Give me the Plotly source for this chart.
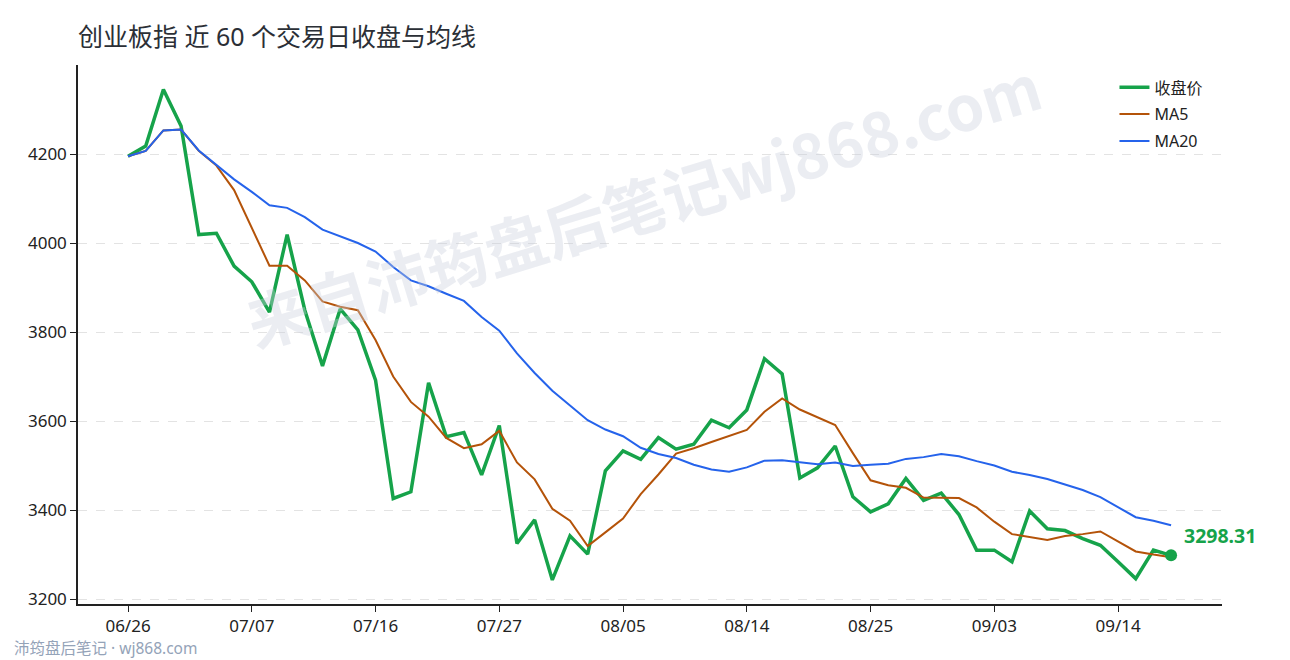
import pandas as pd
import plotly.graph_objects as go

# 60 trading days, 2026-06-26 .. 09/17
dates = [d.strftime("%m/%d") for d in pd.bdate_range("2026-06-26", periods=60)]

close = [4195, 4218, 4345, 4263, 4019, 4022, 3948, 3913, 3845, 4019,
         3849, 3724, 3852, 3805, 3692, 3426, 3441, 3686, 3565, 3574,
         3479, 3590, 3325, 3378, 3243, 3342, 3301, 3488, 3533, 3514,
         3563, 3537, 3548, 3602, 3585, 3625, 3740, 3706, 3472, 3495,
         3544, 3430, 3396, 3414, 3471, 3422, 3438, 3390, 3310, 3310,
         3284, 3398, 3358, 3354, 3336, 3321, 3284, 3246, 3310, 3298.31]

ma5 = [4195, 4207, 4253, 4255, 4207, 4174, 4119, 4033, 3949, 3949,
       3916, 3869, 3857, 3849, 3782, 3700, 3643, 3610, 3562, 3539,
       3548, 3578, 3507, 3469, 3403, 3376, 3319, 3350, 3381, 3436,
       3480, 3527, 3539, 3553, 3567, 3580, 3621, 3651, 3626, 3608,
       3591, 3528, 3467, 3456, 3450, 3428, 3428, 3427, 3406, 3374,
       3346, 3339, 3333, 3342, 3346, 3352, 3330, 3307, 3300, 3294]

ma20 = [4195, 4207, 4253, 4255, 4208, 4176, 4143, 4115, 4085, 4079,
        4058, 4030, 4015, 4000, 3981, 3946, 3916, 3903, 3886, 3870,
        3834, 3803, 3752, 3708, 3668, 3634, 3602, 3581, 3566, 3540,
        3526, 3517, 3502, 3491, 3486, 3496, 3511, 3512, 3507, 3503,
        3507, 3499, 3502, 3504, 3515, 3519, 3526, 3521, 3510, 3500,
        3486, 3479, 3470, 3457, 3445, 3429, 3407, 3384, 3376, 3366]

tick_dates = dates[::7]
y_ticks = [3200, 3400, 3600, 3800, 4000, 4200]

GREEN = "#16a34a"
ORANGE = "#b45309"
BLUE = "#2563eb"
FONT = "Noto Sans, Noto Sans CJK SC"

fig = go.Figure()
fig.add_trace(go.Scatter(x=dates, y=close, name="收盘价", mode="lines",
                         legendgroup="a", line=dict(color=GREEN, width=3.5)))
fig.add_trace(go.Scatter(x=dates, y=ma5, name="MA5", mode="lines",
                         legendgroup="b", line=dict(color=ORANGE, width=2)))
fig.add_trace(go.Scatter(x=dates, y=ma20, name="MA20", mode="lines",
                         legendgroup="c", line=dict(color=BLUE, width=2)))
fig.add_trace(go.Scatter(x=[dates[-1]], y=[close[-1]], mode="markers",
                         showlegend=False, hoverinfo="skip",
                         marker=dict(color=GREEN, size=12)))

fig.add_annotation(x=dates[-1], y=close[-1], text="<b>%.2f</b>" % close[-1],
                   showarrow=False, xanchor="left", yanchor="middle",
                   xshift=11, yshift=20,
                   font=dict(family=FONT, size=19.5, color=GREEN))

# watermark
fig.add_annotation(xref="paper", yref="paper", x=0.494, y=0.745,
                   xanchor="center", yanchor="middle",
                   text="<b>来自沛筠盘后笔记wj868.com</b>", showarrow=False,
                   textangle=-17,
                   font=dict(family="Noto Sans CJK SC", size=62,
                             color="rgba(203,208,222,0.38)"))

fig.add_annotation(xref="paper", yref="paper", x=-0.058, y=-0.082,
                   xanchor="left", yanchor="middle", showarrow=False,
                   text="沛筠盘后笔记 · wj868.com",
                   font=dict(family=FONT, size=15.5, color="#94a3b8"))

# page body adds 8px offset, so margins are shifted accordingly
fig.update_layout(
    width=1290, height=660,
    margin=dict(l=70, r=76, t=57, b=64),
    paper_bgcolor="white", plot_bgcolor="white",
    font=dict(family=FONT, size=17, color="#222222"),
    title=dict(text="创业板指 近 60 个交易日收盘与均线", x=70 / 1290, xanchor="left",
               y=1 - 29 / 660, yanchor="middle",
               font=dict(family=FONT, size=25, color="#2b2f36")),
    showlegend=True,
    legend=dict(x=0.906, y=0.99, xanchor="left", yanchor="top",
                bgcolor="rgba(0,0,0,0)", font=dict(size=16),
                itemwidth=30, tracegroupgap=3),
    hovermode="x unified",
)
fig.update_xaxes(type="category", range=[-2.83, 61.88],
                 tickmode="array", tickvals=tick_dates, ticktext=tick_dates,
                 showline=True, linecolor="#222222", linewidth=1.5,
                 ticks="outside", ticklen=6, tickcolor="#222222",
                 showgrid=False, zeroline=False)
fig.update_yaxes(range=[3189, 4400], tickvals=y_ticks,
                 showline=True, linecolor="#222222", linewidth=1.5,
                 ticks="outside", ticklen=6, tickcolor="#222222",
                 showgrid=True, gridcolor="#e3e3e3", griddash="dash", gridwidth=1,
                 zeroline=False)

fig.write_html("out.html")
